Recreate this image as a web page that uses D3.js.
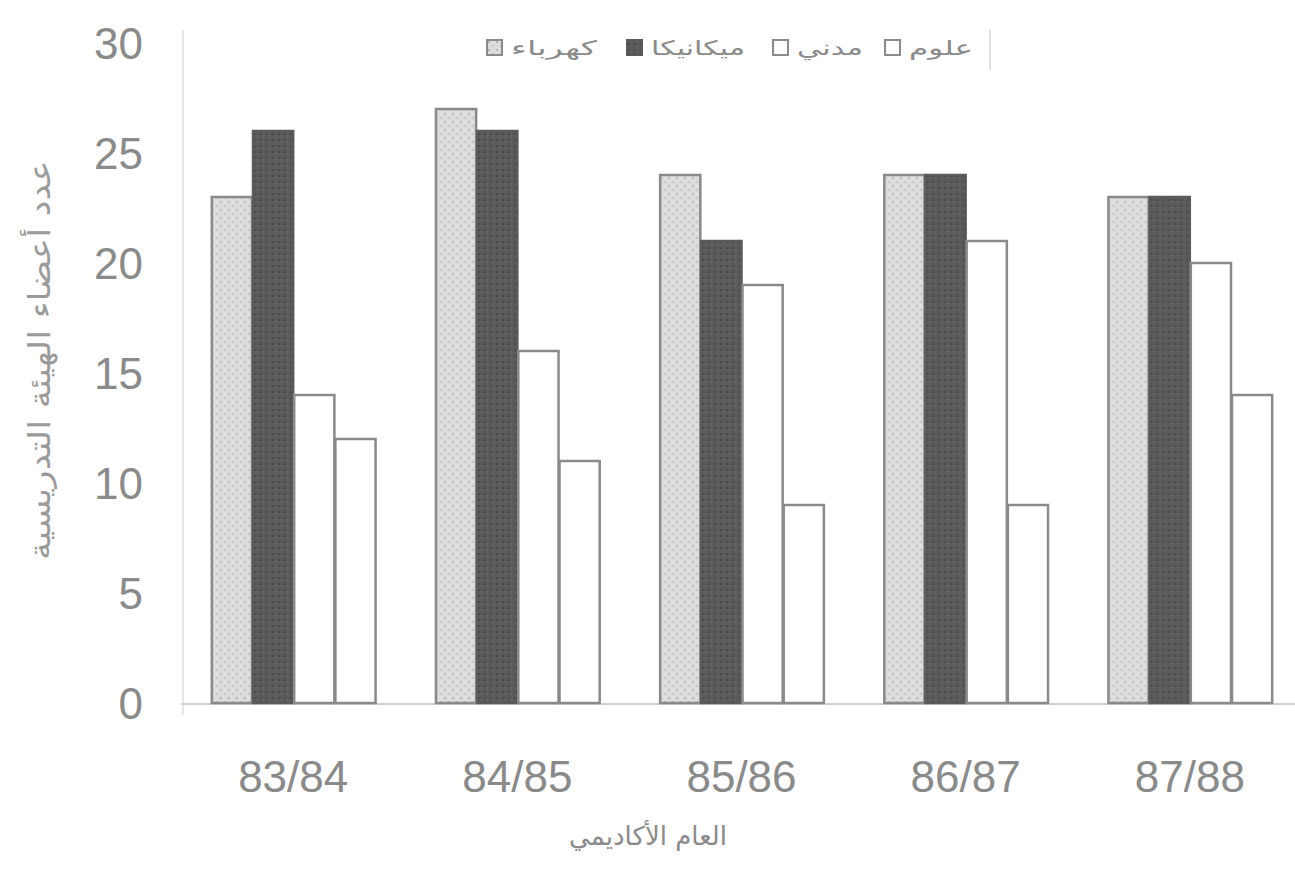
<!DOCTYPE html>
<html><head><meta charset="utf-8">
<script src="https://cdn.jsdelivr.net/npm/d3@7"></script>
<style>
html,body{margin:0;padding:0;background:#fff;}
svg{display:block;}
</style></head>
<body>
<svg id="chart" width="1295" height="879"></svg>
<script>
const categories = ["83/84","84/85","85/86","86/87","87/88"];
const seriesNames = ["كهرباء","ميكانيكا","مدني","علوم"];
const elec = [23,27,24,24,23];
const mech = [26,26,21,24,23];
const civil = [14,16,19,21,20];
const science = [12,11,9,9,14];
const yTicks = [0,5,10,15,20,25,30];
const yTitle = "عدد أعضاء الهيئة التدريسية";
const xTitle = "العام الأكاديمي";

const seriesValues = [elec, mech, civil, science];
const fills = ["url(#lightPat)","url(#darkPat)","#ffffff","#ffffff"];
const strokes = ["#8a8a8a","#5a5a5a","#8a8a8a","#8a8a8a"];

const svg = d3.select("#chart");
const defs = svg.append("defs");
const lp = defs.append("pattern").attr("id","lightPat").attr("patternUnits","userSpaceOnUse").attr("width",8).attr("height",8);
lp.append("rect").attr("width",8).attr("height",8).attr("fill","#dcdcdc");
lp.append("rect").attr("x",1).attr("y",1).attr("width",2).attr("height",2).attr("fill","#b5b5b5");
lp.append("rect").attr("x",5).attr("y",5).attr("width",2).attr("height",2).attr("fill","#c4c4c4");
lp.append("rect").attr("x",5).attr("y",1).attr("width",1).attr("height",1).attr("fill","#f0f0f0");
const dp = defs.append("pattern").attr("id","darkPat").attr("patternUnits","userSpaceOnUse").attr("width",6).attr("height",6);
dp.append("rect").attr("width",6).attr("height",6).attr("fill","#5b5b5b");
dp.append("rect").attr("x",1).attr("y",1).attr("width",2).attr("height",2).attr("fill","#4a4a4a");
dp.append("rect").attr("x",4).attr("y",3).attr("width",1).attr("height",2).attr("fill","#6a6a6a");

const x0 = d3.scaleBand().domain(categories).range([181,1302]).paddingInner(0.265).paddingOuter(0.133);
const x1 = d3.scaleBand().domain(d3.range(seriesNames.length)).range([0,x0.bandwidth()]).padding(0);
const y = d3.scaleLinear().domain([0,30]).range([703,43]);

svg.append("line").attr("x1",183).attr("x2",183).attr("y1",30).attr("y2",715).attr("stroke","#e6e6e6").attr("stroke-width",2);
svg.append("line").attr("x1",181).attr("x2",1295).attr("y1",y(0)+1).attr("y2",y(0)+1).attr("stroke","#d0d0d0").attr("stroke-width",2);

svg.append("g").selectAll("text").data(yTicks).join("text")
  .attr("x",143).attr("y",d=>y(d)).attr("dy","0.36em")
  .attr("text-anchor","end").attr("font-family","Liberation Sans, Arial, sans-serif")
  .attr("font-size",44).attr("fill","#8a8a8a").text(d=>d);

const groups = svg.append("g").selectAll("g").data(categories).join("g")
  .attr("transform",d=>`translate(${x0(d)},0)`);
groups.selectAll("rect").data((c,i)=>seriesValues.map((s,k)=>({k,v:s[i]}))).join("rect")
  .attr("x",d=>x1(d.k)+1).attr("width",x1.bandwidth()-1)
  .attr("y",d=>y(d.v)).attr("height",d=>y(0)-y(d.v))
  .attr("fill",d=>fills[d.k]).attr("stroke",d=>strokes[d.k]).attr("stroke-width",2.5);

svg.append("g").selectAll("text").data(categories).join("text")
  .attr("x",d=>x0(d)+x0.bandwidth()/2).attr("y",792)
  .attr("text-anchor","middle").attr("font-family","Liberation Sans, Arial, sans-serif")
  .attr("font-size",44).attr("fill","#8a8a8a").text(d=>d);

svg.append("text").attr("x",648).attr("y",845).attr("text-anchor","middle")
  .attr("font-family","DejaVu Sans, sans-serif").attr("font-size",26).attr("fill","#8a8a8a").text(xTitle);

// y title: scale to span
const yt = svg.append("text").attr("text-anchor","middle")
  .attr("font-family","DejaVu Sans, sans-serif").attr("font-size",30).attr("fill","#9a9a9a").text(yTitle);
const ytw = yt.node().getComputedTextLength();
yt.attr("transform",`translate(50,360) rotate(-90) scale(${400/ytw},1)`);

const legX = [487,627,773,885];
const legW = [86,94,66,64];
const legend = svg.append("g").selectAll("g").data(seriesNames).join("g")
  .attr("transform",(d,i)=>`translate(${legX[i]},48)`);
legend.append("rect").attr("x",0).attr("y",-8).attr("width",15).attr("height",15)
  .attr("fill",(d,i)=>fills[i]).attr("stroke",(d,i)=>strokes[i]).attr("stroke-width",2);
legend.append("text").attr("y",0).attr("dy","0.35em")
  .attr("font-family","DejaVu Sans, sans-serif").attr("font-size",20).attr("fill","#8a8a8a")
  .attr("text-anchor","start").text(d=>d)
  .each(function(d,i){
    const w = this.getComputedTextLength();
    d3.select(this).attr("transform",`translate(24,0) scale(${legW[i]/w},1)`);
  });
svg.append("line").attr("x1",990).attr("x2",990).attr("y1",30).attr("y2",70).attr("stroke","#e0e0e0").attr("stroke-width",2);
</script>
</body></html>
